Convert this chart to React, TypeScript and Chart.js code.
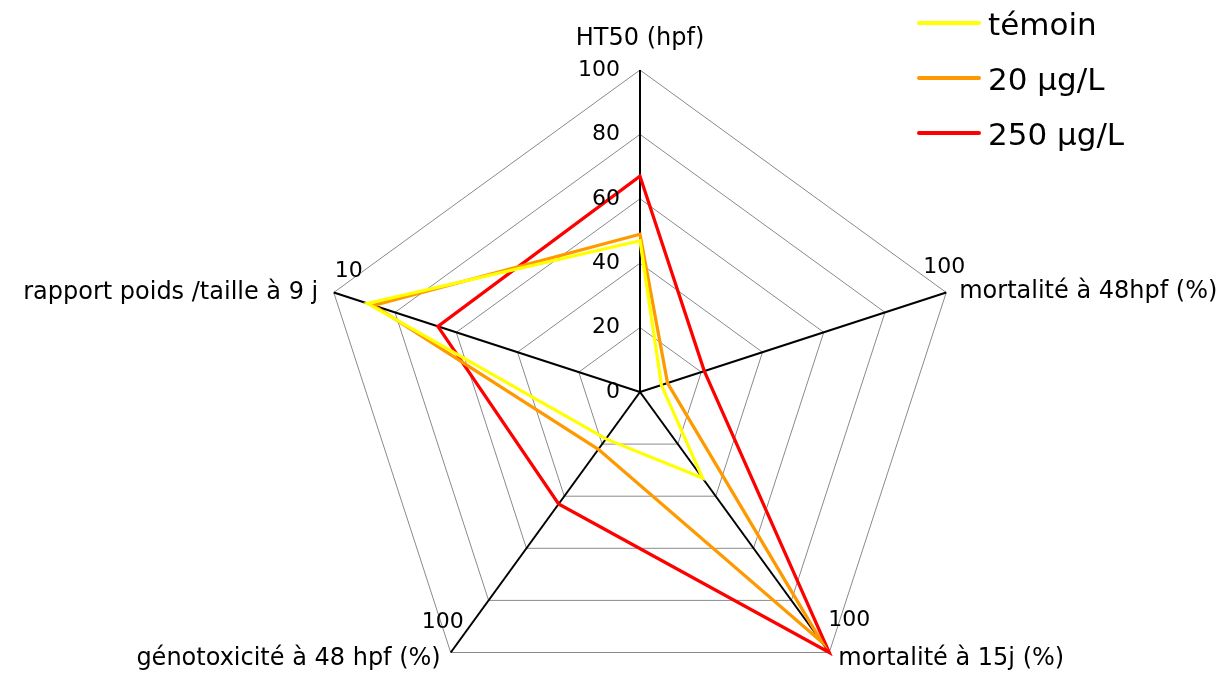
import React, { useEffect, useRef } from "react";
import { Chart, registerables } from "chart.js";

Chart.register(...registerables);

// ---- data ----
const axisLabels = [
  "HT50 (hpf)",
  "mortalité à 48hpf (%)",
  "mortalité à 15j (%)",
  "génotoxicité à 48 hpf (%)",
  "rapport poids /taille à 9 j",
];
const axisMax = [100, 100, 100, 100, 10];
const seriesNames = ["témoin", "20 µg/L", "250 µg/L"];
const temoin = [47, 7, 33, 18, 8.9];
const dose20 = [49, 9, 96, 22, 8.7];
const dose250 = [67, 21, 100, 43, 6.6];
const seriesColors = ["#FFFF00", "#FF9900", "#FF0000"];
const radialTicks = [0, 20, 40, 60, 80, 100];

const FONT = '"DejaVu Sans", sans-serif';

const normalize = (vals: number[]) => vals.map((v, i) => (v / axisMax[i]) * 100);

const textPlugin = {
  id: "customText",
  afterDraw(chart: any) {
    const ctx = chart.ctx as CanvasRenderingContext2D;
    const scale = chart.scales.r;
    const R = scale.drawingArea;
    ctx.save();
    ctx.fillStyle = "#000";

    // radial tick labels along the top axis
    ctx.font = `22px ${FONT}`;
    ctx.textAlign = "right";
    ctx.textBaseline = "middle";
    radialTicks.forEach((v) => {
      const d = scale.getDistanceFromCenterForValue(v);
      ctx.fillText(String(v), scale.xCenter - 20, scale.yCenter - d);
    });

    // axis titles
    const titlePos = [
      { align: "center", dx: 0, dy: -25 },
      { align: "left", dx: 13, dy: 6 },
      { align: "left", dx: 9, dy: 12.5 },
      { align: "right", dx: -10, dy: 12.5 },
      { align: "right", dx: -15.5, dy: 7 },
    ];
    ctx.font = `24px ${FONT}`;
    ctx.textBaseline = "alphabetic";
    axisLabels.forEach((lab, i) => {
      const p = scale.getPointPosition(i, R);
      const o = titlePos[i];
      ctx.textAlign = o.align as CanvasTextAlign;
      ctx.fillText(lab, p.x + o.dx, p.y + o.dy);
    });

    // max labels at the end of the other axes
    const maxPos = [
      null,
      { dx: -2, dy: -19.5 },
      { dx: 20, dy: -26.5 },
      { dx: -8, dy: -24.5 },
      { dx: 15, dy: -15.5 },
    ];
    ctx.font = `22px ${FONT}`;
    ctx.textAlign = "center";
    axisMax.forEach((m, i) => {
      const o = maxPos[i];
      if (!o) return;
      const p = scale.getPointPosition(i, R);
      ctx.fillText(String(m), p.x + o.dx, p.y + o.dy);
    });

    // legend
    chart.data.datasets.forEach((ds: any, i: number) => {
      const y = 23 + i * 55;
      ctx.strokeStyle = ds.borderColor;
      ctx.lineWidth = 4;
      ctx.lineCap = "round";
      ctx.beginPath();
      ctx.moveTo(919, y);
      ctx.lineTo(979, y);
      ctx.stroke();
      ctx.font = `31px ${FONT}`;
      ctx.textAlign = "left";
      ctx.fillStyle = "#000";
      ctx.fillText(ds.label, 988, y + 12);
    });
    ctx.restore();
  },
};

export default function App() {
  const ref = useRef<HTMLCanvasElement | null>(null);
  useEffect(() => {
    if (!ref.current) return;
    const series = [temoin, dose20, dose250];
    const chart = new Chart(ref.current, {
      type: "radar",
      data: {
        labels: axisLabels,
        datasets: series.map((s, i) => ({
          label: seriesNames[i],
          data: normalize(s),
          borderColor: seriesColors[i],
          backgroundColor: "transparent",
          borderWidth: 3.25,
          fill: false,
          pointRadius: 0,
          pointHoverRadius: 0,
          tension: 0,
          borderJoinStyle: "miter" as const,
        })),
      },
      options: {
        responsive: false,
        animation: false,
        layout: { padding: { left: 318, top: 70, right: 263, bottom: 6 } },
        plugins: { legend: { display: false }, tooltip: { enabled: false } },
        scales: {
          r: {
            min: 0,
            max: 100,
            ticks: { display: false, stepSize: 20 },
            pointLabels: { display: false },
            grid: { color: "#8a8a8a", lineWidth: 1 },
            angleLines: { color: "#000000", lineWidth: 2 },
          },
        },
      },
      plugins: [textPlugin],
    });
    return () => chart.destroy();
  }, []);
  return (
    <div
      style={{
        position: "fixed",
        left: 0,
        top: 0,
        width: 1225,
        height: 677,
        overflow: "hidden",
        background: "#fff",
      }}
    >
      <canvas ref={ref} width={1225} height={720} style={{ display: "block", width: 1225, height: 720 }} />
    </div>
  );
}
